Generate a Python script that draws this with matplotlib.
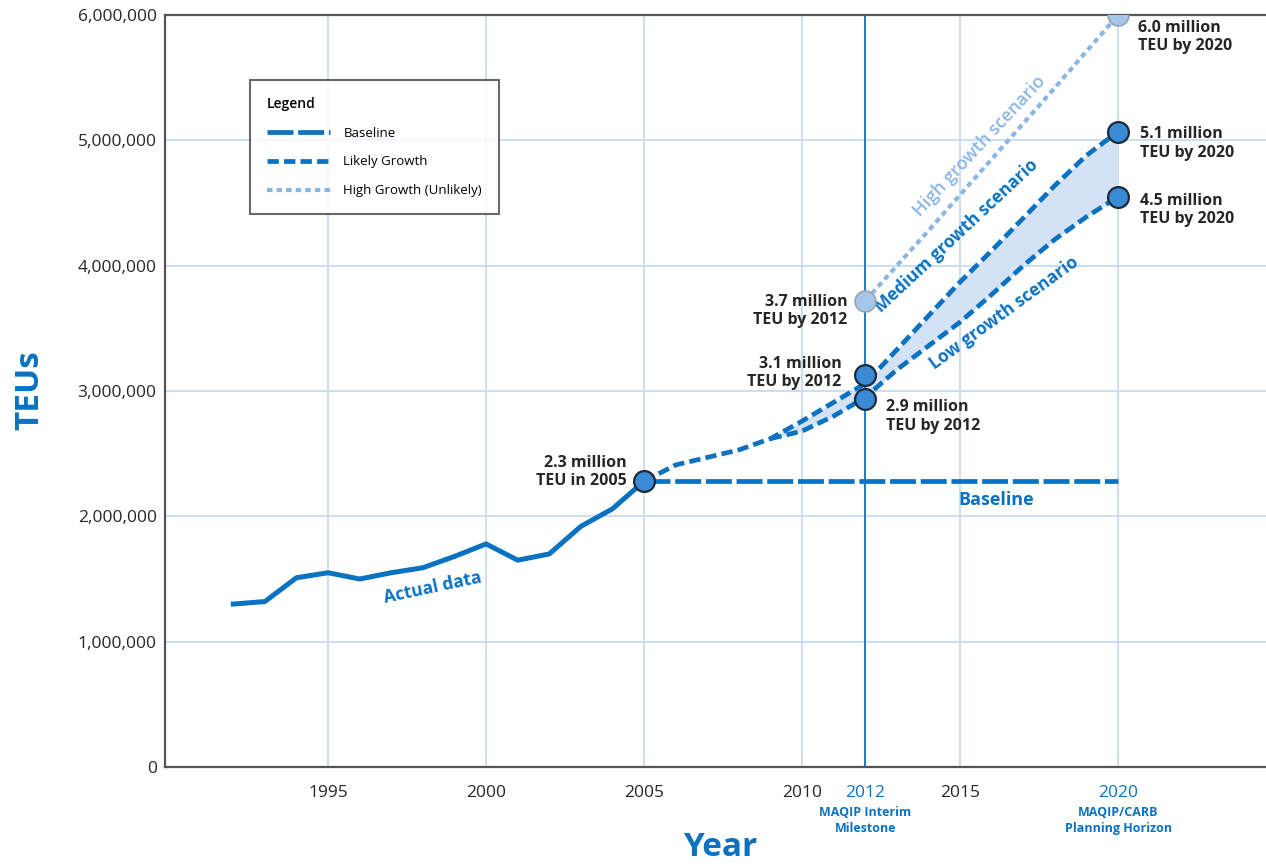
import numpy as np
import matplotlib
matplotlib.use("Agg")
import matplotlib.pyplot as plt
import matplotlib.transforms as mtransforms

plt.rcParams['font.family'] = ['Open Sans', 'DejaVu Sans']

# actual data
actual_years = [1992, 1993, 1994, 1995, 1996, 1997, 1998, 1999, 2000, 2001, 2002, 2003, 2004, 2005]
actual_teu = [1.30, 1.32, 1.51, 1.55, 1.50, 1.55, 1.59, 1.68, 1.78, 1.65, 1.70, 1.92, 2.06, 2.28]

# baseline (flat from 2005)
base_years = [2005, 2020]
base_teu = [2.28, 2.28]

# likely growth: common part then medium / low
common_years = [2005, 2006, 2007, 2008, 2009]
common_teu = [2.28, 2.41, 2.47, 2.53, 2.62]
scen_years = [2009, 2010, 2011, 2012, 2013, 2014, 2015, 2016, 2017, 2018, 2019, 2020]
medium_teu = [2.62, 2.76, 2.91, 3.06, 3.33, 3.60, 3.87, 4.12, 4.38, 4.64, 4.88, 5.07]
low_teu = [2.62, 2.68, 2.80, 2.95, 3.17, 3.36, 3.55, 3.77, 4.00, 4.21, 4.39, 4.55]

# high growth (unlikely)
high_years = [2012, 2014, 2016, 2018, 2020]
high_teu = [3.72, 4.28, 4.85, 5.42, 6.00]

# milestone markers
mark_years = [2005, 2012, 2012, 2020, 2020]
mark_teu = [2.28, 3.13, 2.94, 5.07, 4.55]
mark_labels = ["2.3 million\nTEU in 2005", "3.1 million\nTEU by 2012", "2.9 million\nTEU by 2012",
               "5.1 million\nTEU by 2020", "4.5 million\nTEU by 2020"]
high_mark_years = [2012, 2020]
high_mark_teu = [3.72, 6.00]
high_mark_labels = ["3.7 million\nTEU by 2012", "6.0 million\nTEU by 2020"]

xticks = [1995, 2000, 2005, 2010, 2012, 2015, 2020]
yticks = [0, 1, 2, 3, 4, 5, 6]

blue = '#0b72c1'
light = '#8ab6e4'
grid_c = '#c8dbf2'
fill_c = '#d4e2f5'
dark = '#262626'

fig = plt.figure(figsize=(12.66, 8.67), dpi=100)
ax = fig.add_axes([165/1266, 100/867, 1 - 165/1266, 752/867])

M = 1e6
ax.fill_between(scen_years, np.array(low_teu)*M, np.array(medium_teu)*M, color=fill_c, zorder=1, lw=0)

ax.plot(actual_years, np.array(actual_teu)*M, color=blue, lw=3.6, solid_joinstyle='round', zorder=3)
ax.plot(base_years, np.array(base_teu)*M, color=blue, lw=3.4, dashes=(5.5, 1.0), zorder=3, label='Baseline')
ax.plot(common_years + scen_years[1:], np.array(common_teu + medium_teu[1:])*M, color=blue, lw=3.4,
        dashes=(2.4, 1.1), zorder=3, label='Likely Growth')
ax.plot(scen_years, np.array(low_teu)*M, color=blue, lw=3.4, dashes=(2.4, 1.1), zorder=3)
ax.plot(high_years, np.array(high_teu)*M, color=light, lw=3.0, dashes=(1.3, 1.0), zorder=3,
        label='High Growth (Unlikely)')

ax.axvline(2012, color='#1a7cc6', lw=1.4, zorder=2)

ax.plot(mark_years, np.array(mark_teu)*M, 'o', ms=15, mfc='#3a8ad6', mec='#1c2a3a', mew=1.6, zorder=5)
ax.plot(high_mark_years, np.array(high_mark_teu)*M, 'o', ms=15, mfc='#a6c5ea', mec='#9aa4b0', mew=1.2, zorder=5)

offsets = [(-17, 9), (-24, 2), (21, -18), (22, -12), (22, -13)]
aligns = ['right', 'right', 'left', 'left', 'left']
for yr, v, lab, off, ha in zip(mark_years, mark_teu, mark_labels, offsets, aligns):
    ax.annotate(lab, (yr, v*M), xytext=off, textcoords='offset pixels', ha=ha, va='center',
                fontsize=11.5, fontweight='bold', color=dark, linespacing=1.2, zorder=6)
for yr, v, lab, off, ha in zip(high_mark_years, high_mark_teu, high_mark_labels,
                               [(-18, -10), (20, -22)], ['right', 'left']):
    ax.annotate(lab, (yr, v*M), xytext=off, textcoords='offset pixels', ha=ha, va='center',
                fontsize=11.5, fontweight='bold', color=dark, linespacing=1.2, zorder=6)

# curve labels
ax.text(1998.3, 1.43*M, 'Actual data', rotation=12, color=blue, fontsize=12.5, fontweight='bold',
        ha='center', va='center')
ax.text(2015.6, 4.95*M, 'High growth scenario', rotation=47, color=light, fontsize=13,
        fontweight='semibold', ha='center', va='center')
ax.text(2014.9, 4.24*M, 'Medium growth scenario', rotation=43, color=blue, fontsize=12.5,
        fontweight='bold', ha='center', va='center')
ax.text(2016.4, 3.62*M, 'Low growth scenario', rotation=36, color=blue, fontsize=12.5,
        fontweight='bold', ha='center', va='center')
ax.text(2016.15, 2.13*M, 'Baseline', color=blue, fontsize=13, fontweight='bold', ha='center', va='center')

ax.set_xlim(1989.84, 2024.68)
ax.set_ylim(0, 6*M)
ax.set_xticks(xticks)
ax.set_xticklabels([str(t) for t in xticks], fontsize=12.5)
for lab, t in zip(ax.get_xticklabels(), xticks):
    lab.set_color(blue if t in (2012, 2020) else dark)
ax.set_yticks([y*M for y in yticks])
ax.set_yticklabels([f"{y*1000000:,}" for y in yticks], fontsize=12.5, color=dark)
ax.tick_params(axis='x', length=0, pad=13)
ax.tick_params(axis='y', length=0, pad=6)

trans = mtransforms.blended_transform_factory(ax.transData, ax.transAxes)
ax.text(2012, -0.052, 'MAQIP Interim\nMilestone', transform=trans, ha='center', va='top',
        fontsize=9, fontweight='bold', color=blue, linespacing=1.25)
ax.text(2020, -0.052, 'MAQIP/CARB\nPlanning Horizon', transform=trans, ha='center', va='top',
        fontsize=9, fontweight='bold', color=blue, linespacing=1.25)

ax.grid(True, color=grid_c, lw=1.3, zorder=0)
ax.set_axisbelow(True)
for s in ['left', 'bottom', 'top']:
    ax.spines[s].set_color('#555555')
    ax.spines[s].set_linewidth(1.6)
ax.spines['right'].set_visible(False)

fig.text(30/1266, 1 - 390/867, 'TEUs', rotation=90, color=blue, fontsize=24, fontweight='bold',
         ha='center', va='center')
fig.text(720/1266, 1 - 848/867, 'Year', color=blue, fontsize=24, fontweight='bold',
         ha='center', va='center')

leg = ax.legend(loc='upper left', bbox_to_anchor=(0.077, 0.914), borderaxespad=0, title='Legend',
                alignment='left', fontsize=9.5, title_fontproperties={'size': 10, 'weight': 'semibold'},
                frameon=True, fancybox=False, edgecolor='#444444', handlelength=4.8,
                handletextpad=1.0, borderpad=1.3, labelspacing=1.2)
leg.get_frame().set_linewidth(1.5)

fig.savefig('out.png', dpi=100)
